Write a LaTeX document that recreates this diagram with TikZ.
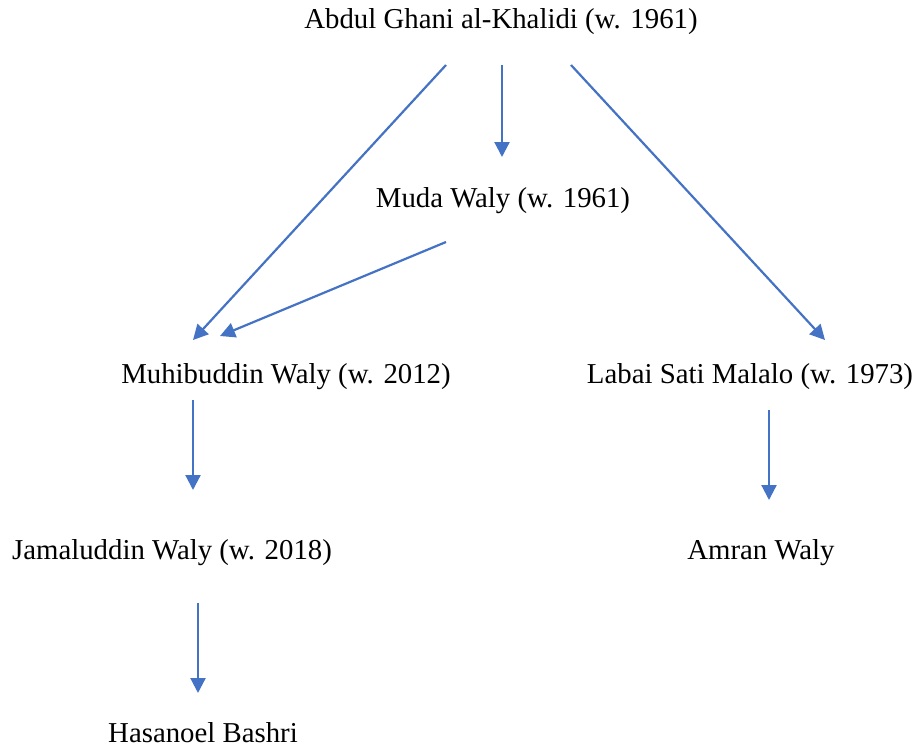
\documentclass[tikz,border=0pt]{standalone}
\usepackage{fontspec}
\setmainfont{Liberation Serif}
\usetikzlibrary{arrows.meta}

\definecolor{arrowblue}{RGB}{68,114,196}
\tikzset{
  person/.style={anchor=base,inner sep=0pt,font=\fontsize{28.8}{34}\selectfont},
  link/.style={arrowblue,line width=2.2pt,-{Triangle[length=15pt,width=15pt]}}
}

\begin{document}
\begin{tikzpicture}[x=1pt,y=-1pt]
  \useasboundingbox (0,0) rectangle (912,747);

  % names
  \node [person] (abdul) at (501,28) {Abdul Ghani al-Khalidi (w. 1961)};
  \node [person] (muda) at (503,207) {Muda Waly (w. 1961)};
  \node [person] (muhib) at (286,383) {Muhibuddin Waly (w. 2012)};
  \node [person] (labai) at (750,383) {Labai Sati Malalo (w. 1973)};
  \node [person] (jamal) at (172,559) {Jamaluddin Waly (w. 2018)};
  \node [person] (amran) at (761,559) {Amran Waly};
  \node [person] (hasan) at (203,742) {Hasanoel Bashri};

  % from the top
  \draw [link] ([xshift=-55pt,yshift=-37pt]abdul.base) -- ([xshift=-93pt,yshift=43pt]muhib.base);
  \draw [link] ([xshift=1pt,yshift=-37pt]abdul.base) -- ([xshift=-1pt,yshift=50pt]muda.base);
  \draw [link] ([xshift=70pt,yshift=-37pt]abdul.base) -- ([xshift=75pt,yshift=43pt]labai.base);
  \draw [link] ([xshift=-57pt,yshift=-35pt]muda.base) -- ([xshift=-66pt,yshift=47pt]muhib.base);

  % lower lines
  \draw [link] ([xshift=-93pt,yshift=-17pt]muhib.base) -- ([xshift=21pt,yshift=69pt]jamal.base);
  \draw [link] ([xshift=19pt,yshift=-27pt]labai.base) -- ([xshift=8pt,yshift=59pt]amran.base);
  \draw [link] ([xshift=26pt,yshift=-44pt]jamal.base) -- ([xshift=-5pt,yshift=49pt]hasan.base);
\end{tikzpicture}
\end{document}
